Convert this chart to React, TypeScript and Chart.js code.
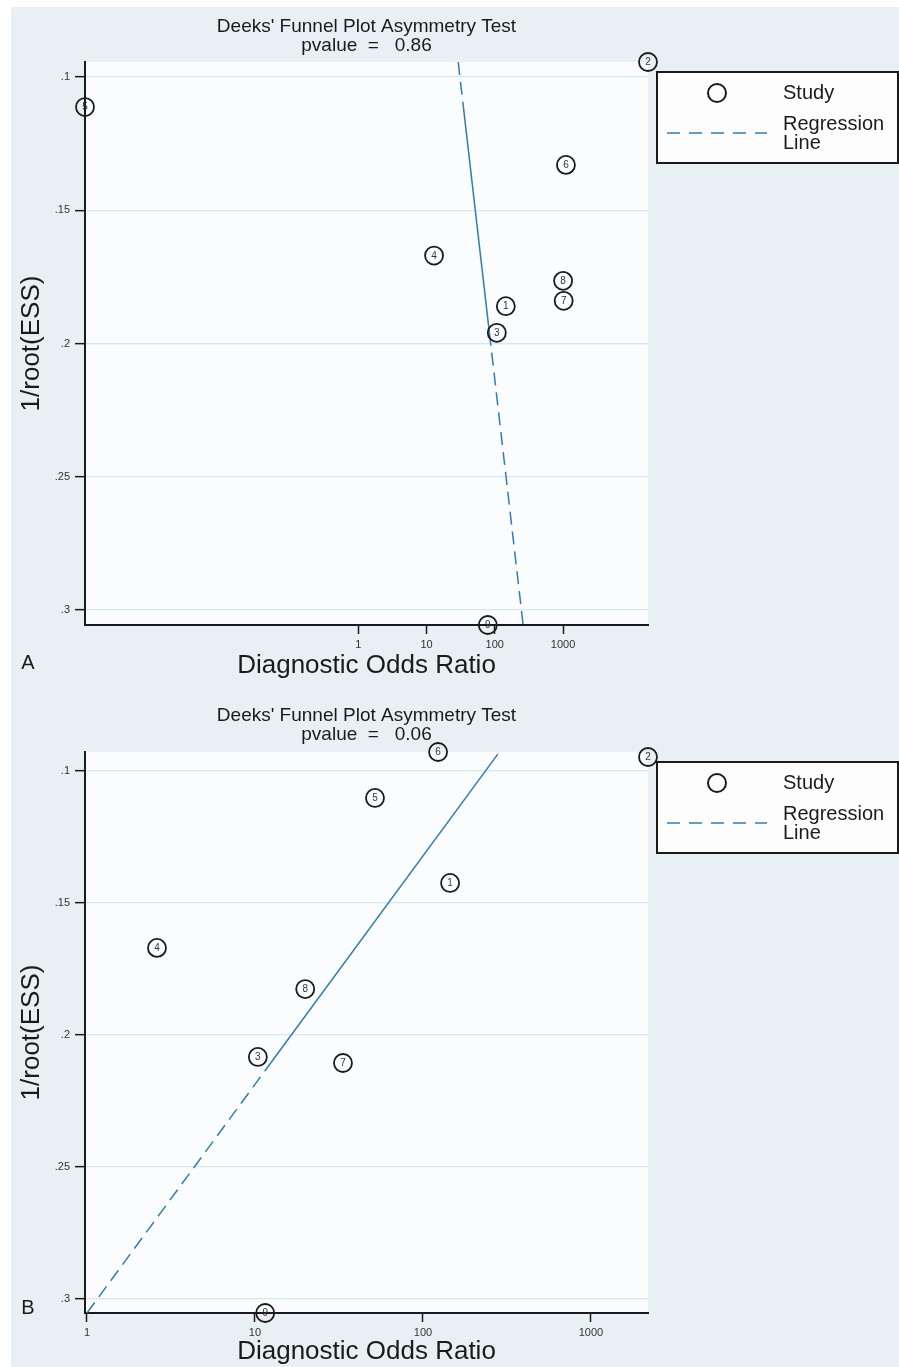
import React, { useEffect, useRef } from 'react';
import { Chart, registerables } from 'chart.js';

Chart.register(...registerables);

const FONT = '"Liberation Sans", Arial, sans-serif';

const studyLabels = ['1', '2', '3', '4', '5', '6', '7', '8', '9'];

// Panel A
const dorA = [145, 17500, 107, 12.9, 0.0001, 1100, 1020, 1000, 79];
const essA = [0.186, 0.0944, 0.196, 0.167, 0.1113, 0.133, 0.184, 0.1765, 0.3056];
const regDorA = [29.1, 34.7, 83.4, 260];
const regEssA = [0.0944, 0.1113, 0.196, 0.3056];
const regSolidSegA = 1;
const pvalueA = '0.86';
const xRangeA = [0.0001, 17500];
const yRangeA = [0.0944, 0.3056];

// Panel B
const dorB = [145, 2185, 10.4, 2.61, 51.8, 123, 33.4, 19.9, 11.5];
const essB = [0.1424, 0.0947, 0.2083, 0.167, 0.1102, 0.0928, 0.2106, 0.1826, 0.3053];
const regDorB = [1, 12.4, 279];
const regEssB = [0.3053, 0.2106, 0.0936];
const regSolidSegB = 1;
const pvalueB = '0.06';
const xRangeB = [0.973, 2185];
const yRangeB = [0.0928, 0.3053];

const yTicks = [0.1, 0.15, 0.2, 0.25, 0.3];
const yTickLabels = ['.1', '.15', '.2', '.25', '.3'];
const xTicks = [1, 10, 100, 1000];
const xTickLabels = ['1', '10', '100', '1000'];

const titleLine1 = "Deeks' Funnel Plot Asymmetry Test";
const legendStudy = 'Study';
const legendReg = ['Regression', 'Line'];
const xTitle = 'Diagnostic Odds Ratio';
const yTitle = '1/root(ESS)';

const LINE_COLOR = '#2d7db9';
const INK = '#1a1a1a';
const DASH = [13, 7];

const decorPlugin = {
  id: 'decor',
  beforeDraw(chart: any) {
    const { ctx, chartArea: a } = chart;
    ctx.save();
    ctx.fillStyle = '#fbfcfd';
    ctx.fillRect(a.left, a.top, a.right - a.left, a.bottom - a.top);
    ctx.restore();
  },
  afterDatasetsDraw(chart: any) {
    const { ctx } = chart;
    const meta = chart.getDatasetMeta(0);
    ctx.save();
    ctx.fillStyle = '#333';
    ctx.font = `10px ${FONT}`;
    ctx.textAlign = 'center';
    ctx.textBaseline = 'middle';
    meta.data.forEach((pt: any, i: number) => {
      ctx.fillText(studyLabels[i], pt.x, pt.y + 0.5);
    });
    ctx.restore();
  },
  afterDraw(chart: any, _args: any, opts: any) {
    const { ctx, chartArea: a } = chart;
    ctx.save();
    // title
    const cx = (a.left + a.right) / 2;
    ctx.fillStyle = INK;
    ctx.font = `19px ${FONT}`;
    ctx.textAlign = 'center';
    ctx.textBaseline = 'middle';
    ctx.fillText(titleLine1, cx, opts.titleY);
    ctx.fillText('pvalue  =   ' + opts.pvalue, cx, opts.titleY + 18.5);

    // legend
    const lx = 657;
    const ly = a.top + 10;
    const lw = 241;
    const lh = 91;
    ctx.fillStyle = '#fdfdfd';
    ctx.fillRect(lx, ly, lw, lh);
    ctx.strokeStyle = INK;
    ctx.lineWidth = 2;
    ctx.strokeRect(lx, ly, lw, lh);
    ctx.beginPath();
    ctx.arc(717, ly + 21, 9, 0, Math.PI * 2);
    ctx.lineWidth = 2;
    ctx.stroke();
    ctx.beginPath();
    ctx.setLineDash([13, 9]);
    ctx.strokeStyle = LINE_COLOR;
    ctx.lineWidth = 1.6;
    ctx.moveTo(667, ly + 61);
    ctx.lineTo(767, ly + 61);
    ctx.stroke();
    ctx.setLineDash([]);
    ctx.fillStyle = INK;
    ctx.font = `20px ${FONT}`;
    ctx.textAlign = 'left';
    ctx.fillText(legendStudy, 783, ly + 21);
    ctx.fillText(legendReg[0], 783, ly + 52);
    ctx.fillText(legendReg[1], 783, ly + 71);

    // panel letter
    ctx.font = `20px ${FONT}`;
    ctx.textAlign = 'center';
    ctx.fillText(opts.letter, 28, opts.letterY);
    ctx.restore();
  },
};

function makeConfig(p: {
  dor: number[]; ess: number[]; regDor: number[]; regEss: number[]; solidSeg: number;
  xRange: number[]; yRange: number[];
  pvalue: string; letter: string; letterY: number; titleY: number; xH: number; padBottom: number;
}): any {
  return {
    type: 'scatter',
    data: {
      datasets: [
        {
          label: 'Study',
          data: p.dor.map((x, i) => ({ x, y: p.ess[i] })),
          pointRadius: 9,
          pointHoverRadius: 9,
          pointBorderWidth: 1.8,
          pointBorderColor: INK,
          pointBackgroundColor: 'rgba(0,0,0,0)',
          showLine: false,
          clip: false,
        },
        {
          label: 'Regression Line',
          data: p.regDor.map((x, i) => ({ x, y: p.regEss[i] })),
          showLine: true,
          borderColor: LINE_COLOR,
          borderWidth: 1.5,
          pointRadius: 0,
          fill: false,
          segment: {
            borderDash: (c: any) => (c.p0DataIndex === p.solidSeg ? [] : DASH),
          },
        },
      ],
    },
    options: {
      animation: false,
      responsive: false,
      events: [],
      layout: { padding: { left: 11, top: 62, right: 251, bottom: p.padBottom } },
      plugins: {
        legend: { display: false },
        tooltip: { enabled: false },
        title: { display: false },
        decor: { pvalue: p.pvalue, letter: p.letter, letterY: p.letterY, titleY: p.titleY },
      },
      scales: {
        x: {
          type: 'logarithmic',
          min: p.xRange[0],
          max: p.xRange[1],
          afterBuildTicks: (s: any) => { s.ticks = xTicks.map((v) => ({ value: v, major: false })); },
          afterFit: (s: any) => { s.height = p.xH; },
          ticks: {
            autoSkip: false,
            maxRotation: 0,
            padding: 4,
            color: '#333',
            font: { family: FONT, size: 11 },
            callback: (_v: any, i: number) => xTickLabels[i],
          },
          grid: { display: true, drawOnChartArea: false, color: INK, tickColor: INK, tickLength: 9, tickWidth: 1.5 },
          border: { display: true, color: INK, width: 2 },
          title: { display: true, text: xTitle, color: INK, font: { family: FONT, size: 26 }, padding: { top: 0, bottom: 0 } },
        },
        y: {
          type: 'linear',
          reverse: true,
          min: p.yRange[0],
          max: p.yRange[1],
          afterBuildTicks: (s: any) => { s.ticks = yTicks.map((v) => ({ value: v })); },
          afterFit: (s: any) => { s.width = 74; },
          ticks: {
            autoSkip: false,
            padding: 5,
            color: '#333',
            font: { family: FONT, size: 11 },
            callback: (_v: any, i: number) => yTickLabels[i],
          },
          grid: { color: '#d6e7f0', lineWidth: 1.3, tickColor: INK, tickLength: 10, tickWidth: 1.5 },
          border: { display: true, color: INK, width: 2 },
          title: { display: true, text: yTitle, color: INK, font: { family: FONT, size: 26 }, padding: { top: 5, bottom: 0 } },
        },
      },
    },
    plugins: [decorPlugin],
  };
}

export default function App() {
  const refA = useRef<HTMLCanvasElement>(null);
  const refB = useRef<HTMLCanvasElement>(null);

  useEffect(() => {
    const chartA = new Chart(refA.current as HTMLCanvasElement, makeConfig({
      dor: dorA, ess: essA, regDor: regDorA, regEss: regEssA, solidSeg: regSolidSegA,
      xRange: xRangeA, yRange: yRangeA, pvalue: pvalueA,
      letter: 'A', letterY: 663, titleY: 27, xH: 56, padBottom: 9,
    }));
    const chartB = new Chart(refB.current as HTMLCanvasElement, makeConfig({
      dor: dorB, ess: essB, regDor: regDorB, regEss: regEssB, solidSeg: regSolidSegB,
      xRange: xRangeB, yRange: yRangeB, pvalue: pvalueB,
      letter: 'B', letterY: 618, titleY: 26, xH: 54, padBottom: 0,
    }));
    return () => {
      chartA.destroy();
      chartB.destroy();
    };
  }, []);

  return (
    <div style={{ position: 'absolute', left: 0, top: 0, width: 899, height: 1367, background: '#ffffff', overflow: 'hidden' }}>
      <div style={{ position: 'absolute', left: 11, top: 7, right: 0, bottom: 0, background: '#e9f0f3' }} />
      <canvas ref={refA} width={899} height={690} style={{ position: 'absolute', left: 0, top: 0, display: 'block' }} />
      <canvas ref={refB} width={899} height={677} style={{ position: 'absolute', left: 0, top: 690, display: 'block' }} />
    </div>
  );
}
